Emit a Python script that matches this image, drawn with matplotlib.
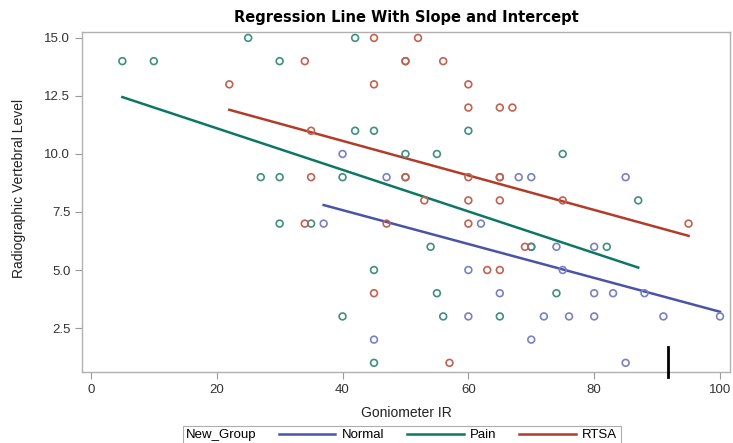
import matplotlib
matplotlib.use("Agg")
from matplotlib import pyplot as plt
from matplotlib.lines import Line2D

plt.rcParams['font.family'] = ['Liberation Sans', 'DejaVu Sans']

# group data (Goniometer IR, Radiographic Vertebral Level)
normal_x = [40, 47, 68, 70, 85, 37, 62, 70, 74, 80, 60, 75, 65, 80, 83, 88,
            60, 72, 76, 80, 91, 100, 45, 70, 85]
normal_y = [10, 9, 9, 9, 9, 7, 7, 6, 6, 6, 5, 5, 4, 4, 4, 4,
            3, 3, 3, 3, 3, 3, 2, 2, 1]

pain_x = [25, 42, 5, 10, 30, 50, 42, 45, 60, 50, 55, 75, 27, 30, 40, 50, 65,
          87, 30, 35, 54, 70, 82, 45, 55, 74, 40, 56, 65, 45]
pain_y = [15, 15, 14, 14, 14, 14, 11, 11, 11, 10, 10, 10, 9, 9, 9, 9, 9,
          8, 7, 7, 6, 6, 6, 5, 4, 4, 3, 3, 3, 1]

rtsa_x = [45, 52, 34, 50, 56, 22, 45, 60, 60, 65, 67, 35, 35, 50, 60, 65,
          53, 60, 65, 75, 34, 47, 60, 95, 69, 63, 65, 45, 57]
rtsa_y = [15, 15, 14, 14, 14, 13, 13, 13, 12, 12, 12, 11, 9, 9, 9, 9,
          8, 8, 8, 8, 7, 7, 7, 7, 6, 5, 5, 4, 1]

groups = ['Normal', 'Pain', 'RTSA']
slopes = [-0.073, -0.0896, -0.0744]
intercepts = [10.50, 12.90, 13.54]

marker_colors = ['#7b80c2', '#3f8f7e', '#c4604f']
line_colors = ['#4a53a8', '#0d7860', '#b23c2a']

fig = plt.figure(figsize=(7.33, 4.43), dpi=100)
ax = fig.add_axes([0.112, 0.160, 0.884, 0.768])

data = [(normal_x, normal_y), (pain_x, pain_y), (rtsa_x, rtsa_y)]
handles = []
for i, (xs, ys) in enumerate(data):
    ax.scatter(xs, ys, s=24, facecolors='none', edgecolors=marker_colors[i],
               linewidths=1.2, zorder=3)
    x0, x1 = min(xs), max(xs)
    ln, = ax.plot([x0, x1],
                  [intercepts[i] + slopes[i] * x0, intercepts[i] + slopes[i] * x1],
                  color=line_colors[i], lw=1.8, zorder=2)
    handles.append(ln)

ax.set_xlim(-1.4, 101.6)
ax.set_ylim(0.6, 15.26)
ax.set_xticks([0, 20, 40, 60, 80, 100])
ax.set_yticks([2.5, 5.0, 7.5, 10.0, 12.5, 15.0])
ax.set_yticklabels(['%.1f' % v for v in [2.5, 5.0, 7.5, 10.0, 12.5, 15.0]])
for s in ax.spines.values():
    s.set_color('#b0b0b0')
    s.set_linewidth(1.0)
ax.tick_params(colors='#999999', labelcolor='#333333', labelsize=9.5,
               length=5, width=0.8)

ax.set_xlabel('Goniometer IR', fontsize=10, color='#222222', labelpad=7)
ax.set_ylabel('Radiographic Vertebral Level', fontsize=10, color='#222222')
ax.yaxis.set_label_coords(-0.086, 0.54)
ax.set_title('Regression Line With Slope and Intercept', fontsize=10.5,
             fontweight='bold', family='DejaVu Sans', pad=7)

leg = fig.legend(handles, groups, loc='center', bbox_to_anchor=(0.548, 0.018),
                 ncol=3, title='New_Group', fontsize=9.5, title_fontsize=9.5,
                 frameon=True, fancybox=False, edgecolor='#999999',
                 handlelength=4.3, handletextpad=0.5, columnspacing=0.6,
                 borderpad=0.25)
leg.get_frame().set_linewidth(0.8)
# put the legend title on the left of the entries
box = leg.get_children()[0]
title_box, entries = box.get_children()[0], box.get_children()[1]
box._children = [entries]
entries._children = [title_box] + entries.get_children()
entries.sep = 16

# stray black mark in the screenshot
fig.add_artist(Line2D([0.911, 0.911], [0.149, 0.217], color='black', lw=2))

fig.savefig('out.png', dpi=100)
